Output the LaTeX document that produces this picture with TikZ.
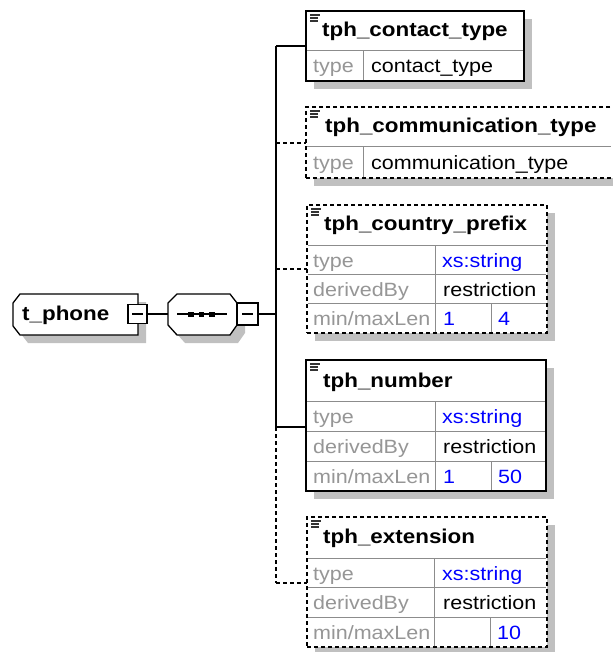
\documentclass[tikz,border=0pt]{standalone}
\usepackage{fontspec}
\setmainfont{Liberation Sans}[FakeStretch=1.12]
\usepackage{xcolor}
\usepackage{tikz}

\definecolor{shadegray}{RGB}{192,192,192}
\definecolor{labelgray}{RGB}{150,150,150}
\definecolor{linegray}{RGB}{140,140,140}
\definecolor{valblue}{RGB}{0,0,255}

\tikzset{
  boxline/.style={draw=black, line width=1.3pt, fill=white},
  elem/.style={boxline, inner sep=0pt, outer sep=0pt, anchor=north west},
  optelem/.style={elem, dash pattern=on 4pt off 3pt},
  minbox/.style={draw=black, line width=1.7pt, fill=white, inner sep=0pt, outer sep=0pt, minimum size=19pt},
  grid/.style={draw=linegray, line width=1pt},
  shade/.style={fill=shadegray},
  icon/.style={draw=black!80, line width=1.3pt},
  ename/.style={anchor=base west, inner sep=0pt, font=\bfseries\fontsize{20}{24}\selectfont},
  lbl/.style={anchor=base west, inner sep=0pt, text=labelgray, font=\fontsize{19.2}{23}\selectfont},
  val/.style={anchor=base west, inner sep=0pt, font=\fontsize{19.2}{23}\selectfont},
  bval/.style={val, text=valblue},
  conn/.style={line width=1.2pt},
  optconn/.style={conn, dash pattern=on 4pt off 3pt},
}

\begin{document}
\begin{tikzpicture}[x=1pt,y=1pt,yscale=-1,xscale=1]
\useasboundingbox (0,0) rectangle (612,652);

%Shape: shadows
\fill[shade] (28,302) -- (146,302) -- (146,343) -- (28,343) -- (21,334) -- (21,311) -- cycle;
\fill[shade] (176,311) -- (185,302) -- (238,302) -- (245,311) -- (245,333) -- (238,343) -- (185,343) -- (176,333) -- cycle;
\fill[shade] (314,19) rectangle (532,89);
\fill[shade] (314,115) rectangle (644,186);
\fill[shade] (315,213) rectangle (555,341);
\fill[shade] (314,368) rectangle (554,499);
\fill[shade] (315,525) rectangle (555,655);

%Shape: t_phone
\draw[boxline] (20,294) -- (138,294) -- (138,335) -- (20,335) -- (13,326) -- (13,303) -- cycle;
\node[ename] (tphone) at (22,320) {t\_phone};
\node[minbox] (tphonemin) at (137.5,314) {};
\draw[conn] ([xshift=4pt]tphonemin.west) -- ([xshift=-4pt]tphonemin.east);

%Shape: sequence
\draw[boxline] (168,303) -- (177,294) -- (230,294) -- (237,303) -- (237,325) -- (230,335) -- (177,335) -- (168,325) -- cycle;
\coordinate (seqleft) at (168,314);
\draw[conn] (177,314) -- (227,314);
\fill (188,311.5) rectangle (193.5,316.5);
\fill (198.5,311.5) rectangle (204,316.5);
\fill (209,311.5) rectangle (214.5,316.5);
\node[minbox, minimum width=21pt, minimum height=22pt] (seqmin) at (247.5,314) {};
\draw[conn] ([xshift=5pt]seqmin.west) -- ([xshift=-5pt]seqmin.east);

%Straight Lines: bus
\coordinate (busmid) at (276,314);
\coordinate (bus1) at (276,46);
\coordinate (bus2) at (276,143);
\coordinate (bus3) at (276,269);
\coordinate (bus4) at (276,427);
\coordinate (bus5) at (276,583);
\draw[conn] (tphonemin.east) -- (seqleft);
\draw[conn] (seqmin.east) -- (busmid);
\draw[conn] (bus1) -- (bus4);
\draw[optconn] (bus4) -- (bus5);

%Shape: tph_contact_type
\node[elem, minimum width=218pt, minimum height=70pt] (ctbox) at (306,11) {};
\draw[grid] (307,51) -- (523,51) (363,51) -- (363,80);
\draw[icon] (310,15) -- (320,15) (310,18) -- (318,18) (310,21) -- (318,21);
\node[ename] (ctname) at (322,37) {tph\_contact\_type};
\node[lbl] (cttype) at (313,73) {type};
\node[val] (ctval) at (371,73) {contact\_type};

%Shape: tph_communication_type
\node[optelem, minimum width=330pt, minimum height=71pt] (commbox) at (306,107) {};
\draw[grid] (307,147) -- (611,147) (363,147) -- (363,177);
\draw[icon] (310,111) -- (320,111) (310,114) -- (318,114) (310,117) -- (318,117);
\node[ename] (commname) at (325,133) {tph\_communication\_type};
\node[lbl] (commtype) at (313,170) {type};
\node[val] (commval) at (371,170) {communication\_type};

%Shape: tph_country_prefix
\node[optelem, minimum width=240pt, minimum height=128pt] (prefbox) at (307,205) {};
\draw[grid] (308,245) -- (546,245) (308,274) -- (546,274) (308,303) -- (546,303)
  (435,245) -- (435,332) (491,303) -- (491,332);
\draw[icon] (311,209) -- (321,209) (311,212) -- (319,212) (311,215) -- (319,215);
\node[ename] (prefname) at (324,230) {tph\_country\_prefix};
\node[lbl] (preftype) at (313,267) {type};
\node[bval] (prefval) at (442,267) {xs:string};
\node[lbl] (prefder) at (313,296) {derivedBy};
\node[val] (prefres) at (443,296) {restriction};
\node[lbl] (preflen) at (313,325) {min/maxLen};
\node[bval] (prefmin) at (443,325) {1};
\node[bval] (prefmax) at (498,325) {4};

%Shape: tph_number
\node[elem, minimum width=240pt, minimum height=131pt] (numbox) at (306,360) {};
\draw[grid] (307,401) -- (545,401) (307,431) -- (545,431) (307,461) -- (545,461)
  (435,401) -- (435,490) (491,461) -- (491,490);
\draw[icon] (310,364) -- (320,364) (310,367) -- (318,367) (310,370) -- (318,370);
\node[ename] (numname) at (323,387) {tph\_number};
\node[lbl] (numtype) at (313,423) {type};
\node[bval] (numval) at (442,423) {xs:string};
\node[lbl] (numder) at (313,453) {derivedBy};
\node[val] (numres) at (443,453) {restriction};
\node[lbl] (numlen) at (313,483) {min/maxLen};
\node[bval] (nummin) at (443,483) {1};
\node[bval] (nummax) at (498,483) {50};

%Shape: tph_extension
\node[optelem, minimum width=240pt, minimum height=130pt] (extbox) at (307,517) {};
\draw[grid] (308,558) -- (546,558) (308,587) -- (546,587) (308,617) -- (546,617)
  (434,558) -- (434,646) (490,617) -- (490,646);
\draw[icon] (311,521) -- (321,521) (311,524) -- (319,524) (311,527) -- (319,527);
\node[ename] (extname) at (323,543) {tph\_extension};
\node[lbl] (exttype) at (313,580) {type};
\node[bval] (extval) at (442,580) {xs:string};
\node[lbl] (extder) at (313,609) {derivedBy};
\node[val] (extres) at (443,609) {restriction};
\node[lbl] (extlen) at (313,639) {min/maxLen};
\node[bval] (extmax) at (497,639) {10};

%Straight Lines: branches
\draw[conn] (bus1) -- (bus1 -| ctbox.west);
\draw[optconn] (bus2) -- (bus2 -| commbox.west);
\draw[optconn] (bus3) -- (bus3 -| prefbox.west);
\draw[conn] (bus4) -- (bus4 -| numbox.west);
\draw[optconn] (bus5) -- (bus5 -| extbox.west);

\end{tikzpicture}
\end{document}
